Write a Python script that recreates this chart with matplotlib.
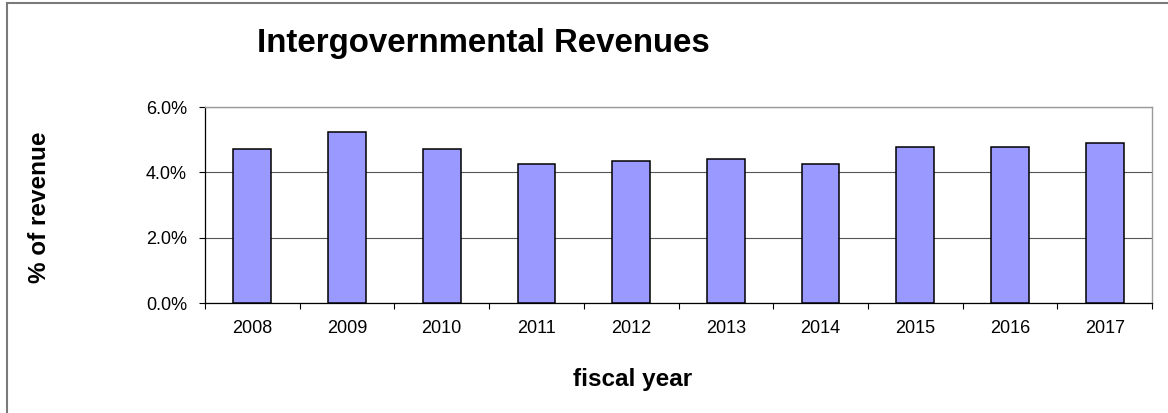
import matplotlib
matplotlib.use("Agg")
import matplotlib.pyplot as plt
from matplotlib.lines import Line2D
from matplotlib.ticker import FixedLocator, FuncFormatter

plt.rcParams['font.family'] = ['Liberation Sans', 'DejaVu Sans']

# Intergovernmental revenues as a share of total revenue, by fiscal year
years = ['2008', '2009', '2010', '2011', '2012', '2013', '2014', '2015', '2016', '2017']
share_pct = [4.72, 5.23, 4.71, 4.26, 4.34, 4.40, 4.24, 4.78, 4.77, 4.90]
y_ticks = [0, 2, 4, 6]

W, H = 1168, 413
fig = plt.figure(figsize=(W / 100, H / 100), dpi=100)
fig.patch.set_facecolor('white')

ax = fig.add_axes([205 / W, 1 - 303 / H, (1152 - 205) / W, (303 - 107) / H])

x = list(range(len(years)))
ax.bar(x, share_pct, width=0.4, color='#9999FF', edgecolor='black',
       linewidth=1.1, zorder=3)

ax.set_xlim(-0.5, len(years) - 0.5)
ax.set_ylim(0, 6)

# category labels at bar centres, tick marks between categories
ax.set_xticks(x)
ax.set_xticklabels(years)
ax.tick_params(axis='x', which='major', length=0, pad=12, labelsize=13)
ax.xaxis.set_minor_locator(FixedLocator([i - 0.5 for i in range(len(years) + 1)]))
ax.tick_params(axis='x', which='minor', length=4.3, width=0.8, direction='out', color='black')

ax.set_yticks(y_ticks)
ax.yaxis.set_major_formatter(FuncFormatter(lambda v, _: f"{v:.1f}%"))
ax.tick_params(axis='y', length=4.3, width=0.8, direction='out', pad=8.6,
               labelsize=13, color='black')

# horizontal gridlines
ax.yaxis.grid(True, color='#555555', linewidth=0.8, zorder=0)
ax.set_axisbelow(True)

for side in ('left', 'bottom'):
    ax.spines[side].set_color('black')
    ax.spines[side].set_linewidth(0.9)
for side in ('top', 'right'):
    ax.spines[side].set_color('#9a9a9a')
    ax.spines[side].set_linewidth(1.0)

# titles
fig.text(257 / W, 1 - 52 / H, 'Intergovernmental Revenues', fontsize=23.8,
         fontweight='bold', ha='left', va='baseline')
fig.text(40 / W, 1 - 207 / H, '% of revenue', fontsize=17.5, fontweight='bold',
         rotation=90, ha='center', va='center')
fig.text(573 / W, 1 - 386 / H, 'fiscal year', fontsize=17.5, fontweight='bold',
         ha='left', va='baseline')

# chart frame along the top and left edges
fig.add_artist(Line2D([7 / W, 7 / W], [0, 1 - 3 / H], transform=fig.transFigure,
                      color='#7a7a7a', linewidth=1.5))
fig.add_artist(Line2D([7 / W, 1], [1 - 3 / H, 1 - 3 / H], transform=fig.transFigure,
                      color='#7a7a7a', linewidth=1.5))

fig.savefig('out.png', dpi=100, facecolor='white')
